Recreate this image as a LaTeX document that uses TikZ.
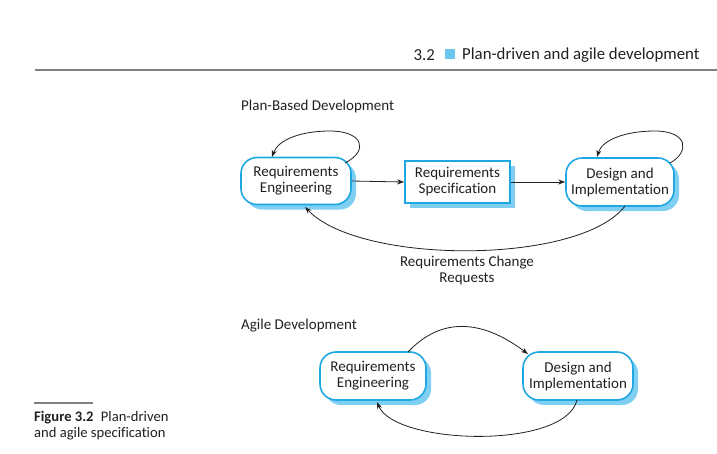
\documentclass[tikz,border=0pt]{standalone}
\usepackage{fontspec}
\setmainfont{Carlito}[Ligatures={NoCommon}]
\usetikzlibrary{arrows.meta,shadows}
\definecolor{bblue}{HTML}{1EA7E1}
\definecolor{sblue}{HTML}{7FCFF3}
\definecolor{txt}{HTML}{231F20}
\definecolor{rule}{HTML}{808080}
\tikzset{
  stadium/.style={draw=bblue, line width=1.6pt, fill=white, rounded corners=16pt, align=center,
    text=txt, font=\fontsize{15}{16}\selectfont, inner sep=0pt,
    drop shadow={shadow xshift=5pt, shadow yshift=-5pt, fill=sblue, opacity=1}},
  squarebox/.style={draw=bblue, line width=1.6pt, fill=white, align=center,
    text=txt, font=\fontsize{15}{16}\selectfont, inner sep=0pt,
    drop shadow={shadow xshift=5pt, shadow yshift=-5pt, fill=sblue, opacity=1}},
  conn/.style={draw=txt, line width=0.8pt, -{Stealth[length=7pt,width=5pt]}},
  lbl/.style={text=txt, font=\fontsize{15}{16}\selectfont, align=center},
}
\begin{document}
\begin{tikzpicture}[x=1pt,y=-1pt]
\useasboundingbox (0,0) rectangle (717,453);
% header
\node[lbl, anchor=west, font=\fontsize{16.8}{20}\selectfont, inner sep=0pt] (hdr) at (462,55) {Plan-driven and agile development};
\fill[sblue!80!bblue] (445,49) rectangle (455,59);
\node[lbl, anchor=east, font=\fontsize{16.8}{20}\selectfont, inner sep=0pt] (hnum) at (435,55) {3.2};
\draw[rule, line width=1.5pt] (35,70) -- (717,70);
% caption
\draw[rule, line width=1.2pt] (34,403) -- (93,403);
\node[lbl, anchor=north west, align=left, font=\fontsize{14.6}{16}\selectfont, inner sep=0pt] (cap) at (34,411) {\textbf{Figure 3.2}\enspace Plan-driven\\and agile specification};
% plan-based
\node[lbl, anchor=west, inner sep=0pt] (t1) at (241,106) {Plan-Based Development};
\node[stadium, minimum width=110pt, minimum height=47pt] (re) at (296,181) {Requirements\\Engineering};
\node[squarebox, minimum width=105pt, minimum height=42pt] (rs) at (457.5,182) {Requirements\\Specification};
\node[stadium, minimum width=108pt, minimum height=48pt] (di) at (620,182) {Design and\\Implementation};
\draw[conn] (re.east) -- (rs.west);
\draw[conn] (rs.east) -- (di.west);
\draw[conn] (345,163) .. controls (370,150) and (362,131) .. (330,131) .. controls (300,131) and (278,140) .. (272,157);
\draw[conn] (670,163) .. controls (690,152) and (688,131) .. (655,131) .. controls (625,131) and (602,140) .. (597,157);
\draw[conn] (625,206) .. controls (580,265) and (360,265) .. (305,207);
\node[lbl, inner sep=0pt] (chg) at (467,270) {Requirements Change\\Requests};
% agile
\node[lbl, anchor=west, inner sep=0pt] (t2) at (241,326) {Agile Development};
\node[stadium, minimum width=106pt, minimum height=48pt] (are) at (373,376) {Requirements\\Engineering};
\node[stadium, minimum width=110pt, minimum height=48pt] (adi) at (578,376) {Design and\\Implementation};
\draw[conn] (408,352) .. controls (440,318) and (480,318) .. (528,354);
\draw[conn] (577,400) .. controls (565,450) and (395,445) .. (377,402);
\end{tikzpicture}
\end{document}
